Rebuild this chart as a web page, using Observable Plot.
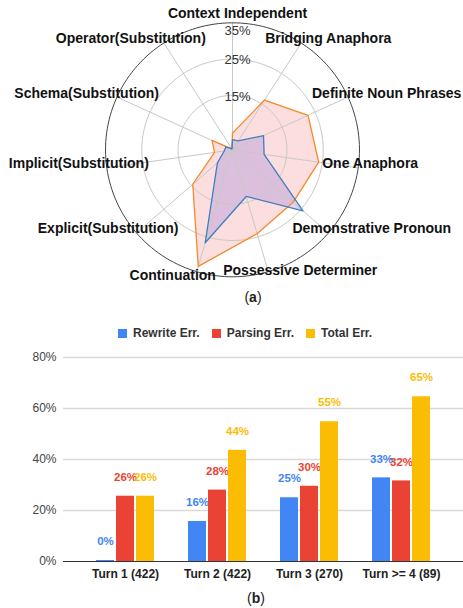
<!DOCTYPE html>
<html><head><meta charset="utf-8">
<script src="https://cdn.jsdelivr.net/npm/d3@7"></script>
<script src="https://cdn.jsdelivr.net/npm/@observablehq/plot@0.6"></script>
<style>
html,body{margin:0;padding:0;background:#fff;}
body{width:463px;height:608px;position:relative;overflow:hidden;font-family:"Liberation Sans",Arial,sans-serif;}
.abs{position:absolute;}
.cap{font-size:14px;color:#222;line-height:16px;transform:translateX(-50%);white-space:nowrap;}
#legend > div{min-height:16px !important;margin:0 !important;}
#legend div, #legend span{font-family:"Liberation Sans",Arial,sans-serif !important;font-size:12px !important;font-weight:bold !important;color:#333 !important;}
</style></head><body>
<div id="radar" class="abs" style="left:0;top:0"></div>
<div class="abs cap" style="left:253px;top:289px">(<b>a</b>)</div>
<div id="legend" class="abs" style="left:118px;top:325px"></div>
<div id="bars" class="abs" style="left:0;top:345px"></div>
<div class="abs cap" style="left:256px;top:590px">(<b>b</b>)</div>
<script>
// ---------- Radar data ----------
const categories = ["Context Independent","Bridging Anaphora","Definite Noun Phrases","One Anaphora","Demonstrative Pronoun","Possessive Determiner","Continuation","Explicit(Substitution)","Implicit(Substitution)","Schema(Substitution)","Operator(Substitution)"];
const seriesOrange = [4.6, 16.3, 22.9, 24.0, 22.1, 24.1, 33.5, 14.5, 5.0, 6.2, 0.3];
const seriesBlue   = [2.8, 2.9, 9.4, 8.8, 25.7, 13.4, 26.7, 5.5, 2.3, 2.0, 0.3];
const radarTicks = [15, 25, 35];

// ---------- Bar data ----------
const turns = ["Turn 1 (422)", "Turn 2 (422)", "Turn 3 (270)", "Turn >= 4 (89)"];
const seriesNames = ["Rewrite Err.", "Parsing Err.", "Total Err."];
const rewriteErr = [0.4, 15.7, 25.0, 32.8];
const parsingErr = [25.6, 28.0, 29.5, 31.6];
const totalErr   = [25.6, 43.6, 54.8, 64.6];
const yTicks = [0, 20, 40, 60, 80];

const FONT = '"Liberation Sans", Arial, sans-serif';

// ---------- Radar ----------
const S = 0.01; // degrees of arc per percent
const n = categories.length;
const ci = d3.range(n);
const angle = i => i * 360 / n;
const lonOf = i => 180 - angle(i);
const sinA = i => Math.sin(angle(i) * Math.PI / 180);
const cosA = i => Math.cos(angle(i) * Math.PI / 180);
const outer = d3.max(radarTicks);
const pts = vals => ci.map(i => ({cat: categories[i], lon: lonOf(i), lat: 90 - vals[i] * S}));
const ring = r => d3.geoCircle().center([0, 90]).radius(r * S)();

const labelMark = (filter, opts) => Plot.text(ci.filter(filter), {
  x: i => lonOf(i), y: 90 - outer * S, text: i => categories[i],
  fontSize: 14, fontWeight: "bold", fill: "#111", ...opts
});
const tickMark = (filter, opts) => Plot.text(radarTicks.filter(filter), {
  x: 180, y: t => 90 - t * S, text: t => t + "%", dx: 5, fontSize: 13, fill: "#333", ...opts
});

const radar = Plot.plot({
  width: 463, height: 290,
  marginTop: 8.6, marginBottom: 0, marginLeft: 1, marginRight: 0,
  style: {fontFamily: FONT, background: "transparent"},
  projection: {type: "azimuthal-equidistant", rotate: [0, -90], domain: ring(outer * 1.108)},
  marks: [
    Plot.line(pts(seriesOrange), {x: "lon", y: "lat", curve: "linear-closed", fill: "#fcdede", stroke: "none"}),
    Plot.line(pts(seriesBlue), {x: "lon", y: "lat", curve: "linear-closed", fill: "#9d86de", fillOpacity: 0.35, stroke: "none"}),
    Plot.link(ci, {x1: i => lonOf(i), y1: 90, x2: i => lonOf(i), y2: 90 - outer * S, stroke: "#c8c8c8", strokeWidth: 1}),
    Plot.geo(radarTicks.filter(t => t < outer), {geometry: ring, stroke: "#c8c8c8", fill: "none", strokeWidth: 1}),
    Plot.geo([outer], {geometry: ring, stroke: "#444", fill: "none", strokeWidth: 1}),
    Plot.line(pts(seriesOrange), {x: "lon", y: "lat", curve: "linear-closed", fill: "none", stroke: "#f5892a", strokeWidth: 1.3}),
    Plot.line(pts(seriesBlue), {x: "lon", y: "lat", curve: "linear-closed", fill: "none", stroke: "#3f7fc0", strokeWidth: 1.3}),
    tickMark(t => t < outer, {dy: 1}),
    tickMark(t => t === outer, {dy: 8}),
    labelMark(i => Math.abs(sinA(i)) < 0.1 && cosA(i) > 0, {textAnchor: "middle", dx: 5, dy: -9}),
    labelMark(i => cosA(i) < -0.9 && sinA(i) > 0, {textAnchor: "middle", dx: 32, dy: -1}),
    labelMark(i => cosA(i) < -0.9 && sinA(i) < 0, {textAnchor: "middle", dx: -24, dy: 4}),
    labelMark(i => sinA(i) >= 0.1 && cosA(i) >= -0.9, {textAnchor: "start", dx: -36, dy: -4}),
    labelMark(i => sinA(i) <= -0.1 && cosA(i) >= -0.9, {textAnchor: "end", dx: 42, dy: -4})
  ]
});
document.getElementById("radar").append(radar);

// ---------- Bars ----------
const barColors = ["#4285f4", "#ea4335", "#fbbc04"];
const seriesVals = [rewriteErr, parsingErr, totalErr];
const barData = seriesNames.flatMap((s, si) => turns.map((t, ti) => ({turn: t, series: s, value: seriesVals[si][ti]})));
const insets = [{insetLeft: 0, insetRight: 40}, {insetLeft: 20, insetRight: 20}, {insetLeft: 40, insetRight: 0}];
const labelDx = [-20, 0, 20];

const barMarks = seriesNames.flatMap((s, si) => {
  const rows = barData.filter(d => d.series === s);
  return [
    Plot.barY(rows, {x: "turn", y: "value", fill: "series", ...insets[si]}),
    Plot.text(rows, {x: "turn", y: "value", text: d => Math.round(d.value) + "%", fill: "series", dy: -19, dx: labelDx[si], fontSize: 11.5, fontWeight: "bold"})
  ];
});

const bars = Plot.plot({
  width: 463, height: 246,
  marginTop: 12, marginBottom: 30, marginLeft: 63, marginRight: 0,
  style: {fontFamily: FONT, background: "transparent"},
  x: {domain: turns, paddingInner: 0.3676, paddingOuter: 0.346},
  y: {domain: [0, 80]},
  color: {domain: seriesNames, range: barColors},
  marks: [
    Plot.ruleY(yTicks.filter(t => t > 0), {stroke: "#d9d9d9", strokeWidth: 1.3}),
    Plot.axisY({ticks: yTicks, tickSize: 0, tickPadding: 7, tickFormat: d => d + "%", fontSize: 12, fill: "#444", label: null}),
    Plot.axisX({tickSize: 0, tickPadding: 8, fontSize: 12, fontWeight: "bold", fill: "#222", label: null}),
    ...barMarks,
    Plot.ruleY([0], {stroke: "#333", strokeWidth: 1})
  ]
});
document.getElementById("bars").append(bars);

const legend = Plot.legend({color: {domain: seriesNames, range: barColors}, swatchSize: 9});
document.getElementById("legend").append(legend);
</script>
</body></html>
